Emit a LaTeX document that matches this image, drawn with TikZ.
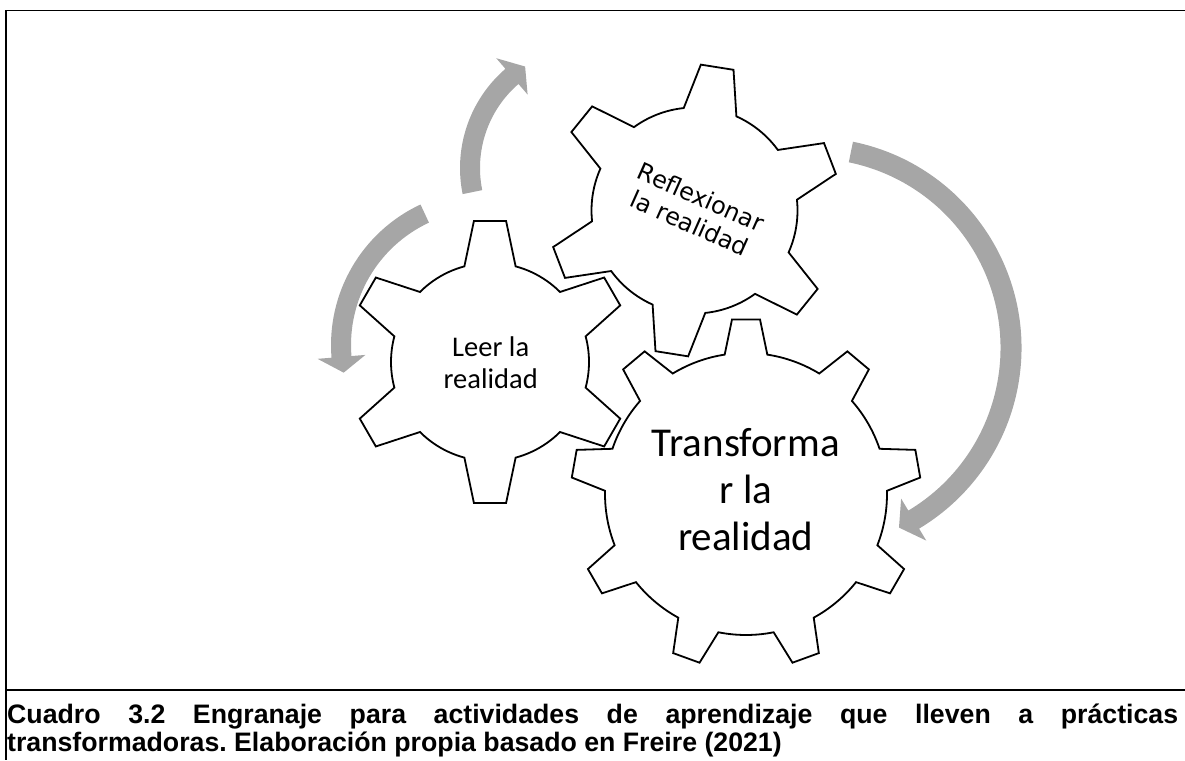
\documentclass[tikz,border=0pt]{standalone}
\usepackage{fontspec}
\setmainfont{Carlito}
\newfontfamily\dejavufont{DejaVu Sans}
\newfontfamily\capfont{Liberation Sans}
\definecolor{arrowgray}{HTML}{A6A6A6}
\tikzset{
  gearline/.style={draw=black, line width=1.8pt, line join=miter},
  arrowfill/.style={fill=arrowgray, draw=none},
  frameline/.style={draw=black, line width=1.8pt},
  geartext/.style={align=center, inner sep=0pt},
  captext/.style={anchor=base west, inner sep=0pt, font=\capfont\bfseries\fontsize{26.7}{29}\selectfont},
}
% #1 centre, #2 teeth, #3 first tooth angle, #4 tip radius, #5 root radius, #6 tip half-angle, #7 root half-angle
\newcommand\drawgear[7]{%
  \draw[gearline, shift={#1}] (#3-#7:#5)
    \foreach \k [evaluate=\k as \a using #3+(\k-1)*360/#2] in {1,...,#2} {
      -- (\a-#7:#5) -- (\a-#6:#4) -- (\a+#6:#4) -- (\a+#7:#5)
      arc[start angle=\a+#7, end angle=\a+360/#2-#7, radius=#5]
    } -- cycle;
}
% #1 centre, #2 radius, #3 start angle, #4 head base angle, #5 tip angle, #6 half shaft width, #7 half head width
\newcommand\circarrow[7]{%
  \fill[arrowfill, shift={#1}] (#3:#2+#6)
    arc[start angle=#3, end angle=#4, radius=#2+#6]
    -- (#4:#2+#7) -- (#5:#2) -- (#4:#2-#7) -- (#4:#2-#6)
    arc[start angle=#4, end angle=#3, radius=#2-#6] -- cycle;
}
\begin{document}
\begin{tikzpicture}[x=1pt,y=1pt]
\useasboundingbox (0,0) rectangle (1185,760);
% frame
\draw[frameline, line width=1pt] (5,749) -- (1185,749);
\draw[frameline] (6,749.5) -- (6,0);
\draw[frameline] (6,70) -- (1185,70);
% centres
\coordinate (c1) at (490,398);
\coordinate (c2) at (694.5,549.5);
\coordinate (c3) at (746,266);
\coordinate (aA) at (591,592);
\coordinate (aB) at (486,415);
\coordinate (aC) at (811,412);
% arrows
\circarrow{(aA)}{121}{191.5}{130.8}{123}{10}{24}
\circarrow{(aB)}{145}{115}{184.7}{191}{10}{24}
\circarrow{(aC)}{200}{78.5}{-59.1}{-63.9}{10.5}{24.5}
% gears
\drawgear{(c1)}{6}{30}{142}{99}{6.5}{15}
\drawgear{(c2)}{6}{21}{146}{103}{6.5}{15}
\drawgear{(c3)}{9}{10}{175}{141}{4.6}{8.7}
% texts
\node[geartext, font=\fontsize{28.5}{31.7}\selectfont] (g1) at (490.7,393.5) {\strut Leer la\\realidad\strut};
\node[geartext, font=\dejavufont\fontsize{24}{28.5}\selectfont, rotate=-24] (g2) at (694,547) {\strut Reflexionar\\la realidad\strut};
\node[geartext, font=\fontsize{41}{46.7}\selectfont] (g3) at (745.8,266) {\strut Transforma\\r la\\realidad\strut};
% caption
\node[captext] (cap1) at (7,37) {\hbox to 1171pt{Cuadro 3.2 Engranaje para actividades de aprendizaje que lleven a prácticas}};
\node[captext] (cap2) at (7,9) {\frenchspacing transformadoras. Elaboración propia basado en Freire (2021)};
\end{tikzpicture}
\end{document}
